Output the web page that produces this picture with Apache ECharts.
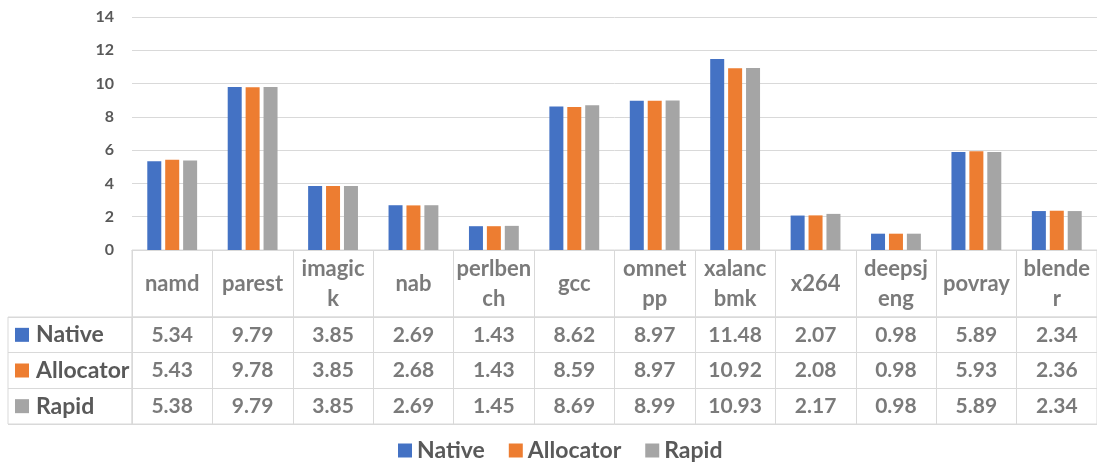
<!DOCTYPE html>
<html>
<head>
<meta charset="utf-8">
<script src="https://cdn.jsdelivr.net/npm/echarts@6/dist/echarts.min.js"></script>
<style>
  html, body { margin: 0; padding: 0; background: #fff; }
  #chart { width: 1097px; height: 463px; }
</style>
</head>
<body>
<div id="chart"></div>
<script>
// Données
const categories = ["namd", "parest", "imagick", "nab", "perlbench", "gcc", "omnetpp", "xalancbmk", "x264", "deepsjeng", "povray", "blender"];
// Libellés d'en-tête tels qu'ils sont coupés dans le tableau
const headerLabels = ["namd", "parest", "imagic\nk", "nab", "perlben\nch", "gcc", "omnet\npp", "xalanc\nbmk", "x264", "deepsj\neng", "povray", "blende\nr"];
const seriesNames = ["Native", "Allocator", "Rapid"];
const nativeValues = [5.34, 9.79, 3.85, 2.69, 1.43, 8.62, 8.97, 11.48, 2.07, 0.98, 5.89, 2.34];
const allocatorValues = [5.43, 9.78, 3.85, 2.68, 1.43, 8.59, 8.97, 10.92, 2.08, 0.98, 5.93, 2.36];
const rapidValues = [5.38, 9.79, 3.85, 2.69, 1.45, 8.69, 8.99, 10.93, 2.17, 0.98, 5.89, 2.34];
const yTicks = [0, 2, 4, 6, 8, 10, 12, 14];

const colors = ["#4472C4", "#ED7D31", "#A5A5A5"];
const textColor = "#595959";
const lineColor = "#d9d9d9";
const font = "Lato";

const allValues = [nativeValues, allocatorValues, rapidValues];

const chart = echarts.init(document.getElementById("chart"));

const left = 132;
// chiffres et textes n'ont pas la même chasse qu'en Calibri
const numFont = { fontFamily: font, fontWeight: "bold", fontSize: 21, color: textColor };
const wordFont = { fontFamily: font, fontWeight: "bold", fontSize: 22, color: textColor };

// Séries en barres
const barSeries = seriesNames.map((name, i) => ({
  name: name,
  type: "bar",
  xAxisIndex: 0,
  yAxisIndex: 0,
  data: allValues[i],
  barWidth: 14,
  barGap: "28%",
  itemStyle: { color: colors[i] },
}));

// Cellules du tableau (valeurs)
const cellSeries = seriesNames.map((name, r) => ({
  name: "cell-" + name,
  type: "scatter",
  xAxisIndex: 2,
  yAxisIndex: 2,
  symbolSize: 0,
  silent: true,
  data: allValues[r].map((v, i) => [i, r, v]),
  label: {
    show: true,
    position: "inside",
    formatter: (p) => p.value[2].toFixed(2),
    ...numFont,
  },
}));

// En-têtes de colonnes
const headerSeries = {
  name: "header",
  type: "scatter",
  xAxisIndex: 1,
  yAxisIndex: 1,
  symbolSize: 0,
  silent: true,
  data: categories.map((c, i) => [i, 0.5]),
  label: {
    show: true,
    position: "inside",
    formatter: (p) => headerLabels[p.dataIndex],
    lineHeight: 30,
    ...wordFont,
  },
};

const rich = { t: { ...wordFont, fontSize: 23, padding: [0, 0, 0, 7] } };
colors.forEach((c, i) => {
  rich["s" + i] = { width: 14, height: 14, backgroundColor: c };
});

const option = {
  animation: false,
  legend: {
    data: seriesNames,
    left: 393,
    top: 434,
    icon: "rect",
    itemWidth: 14,
    itemHeight: 14,
    itemGap: 24,
    textStyle: { ...wordFont, fontSize: 23 },
  },
  grid: [
    { left: left, right: 0, top: 17, height: 233 },
    { left: left, right: 0, top: 250, height: 67, show: true, borderColor: lineColor, borderWidth: 1 },
    { left: left, right: 0, top: 317, height: 107, show: true, borderColor: lineColor, borderWidth: 1 },
    { left: 8, width: 124, top: 317, height: 107, show: true, borderColor: lineColor, borderWidth: 1 },
  ],
  xAxis: [
    {
      gridIndex: 0,
      type: "category",
      data: categories,
      axisLabel: { show: false },
      axisTick: { show: false },
      axisLine: { lineStyle: { color: lineColor } },
    },
    {
      gridIndex: 1,
      type: "category",
      data: categories,
      axisLabel: { show: false },
      axisTick: { show: false },
      axisLine: { show: false },
      splitLine: { show: true, lineStyle: { color: lineColor } },
    },
    {
      gridIndex: 2,
      type: "category",
      data: categories,
      axisLabel: { show: false },
      axisTick: { show: false },
      axisLine: { show: false },
      splitLine: { show: true, lineStyle: { color: lineColor } },
    },
    {
      gridIndex: 3,
      type: "value",
      min: 0,
      max: 1,
      show: false,
    },
  ],
  yAxis: [
    {
      gridIndex: 0,
      type: "value",
      min: yTicks[0],
      max: yTicks[yTicks.length - 1],
      interval: yTicks[1] - yTicks[0],
      axisLine: { show: false },
      axisTick: { show: false },
      splitLine: { lineStyle: { color: lineColor } },
      axisLabel: { margin: 18, fontFamily: font, fontWeight: "bold", fontSize: 16, color: textColor },
    },
    { gridIndex: 1, type: "value", min: 0, max: 1, show: false },
    {
      gridIndex: 2,
      type: "category",
      data: seriesNames,
      inverse: true,
      axisLabel: { show: false },
      axisTick: { show: false },
      axisLine: { show: false },
      splitLine: { show: true, lineStyle: { color: lineColor } },
    },
    {
      gridIndex: 3,
      type: "category",
      data: seriesNames,
      inverse: true,
      axisTick: { show: false },
      axisLine: { show: false },
      splitLine: { show: true, lineStyle: { color: lineColor } },
      axisLabel: {
        inside: true,
        margin: 7,
        formatter: (val, idx) => `{s${idx}|}{t|${val}}`,
        rich: rich,
      },
    },
  ],
  series: [...barSeries, headerSeries, ...cellSeries],
};

chart.setOption(option);
</script>
</body>
</html>
